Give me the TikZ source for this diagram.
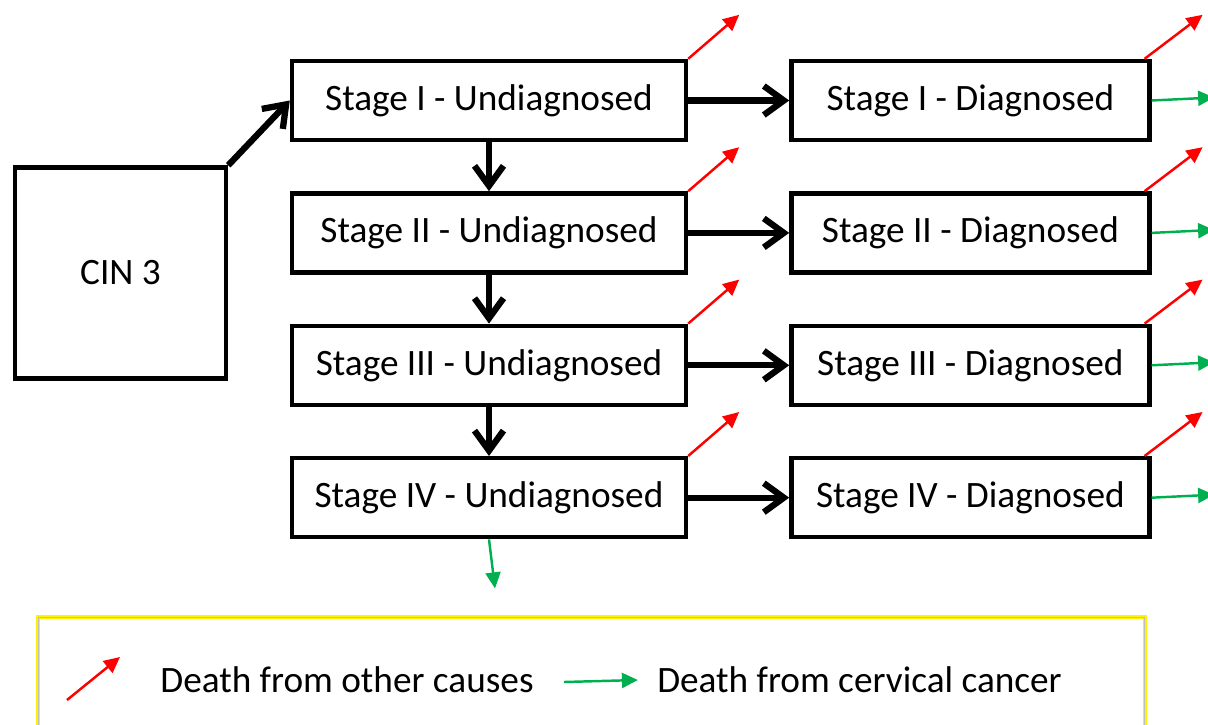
\documentclass[tikz,border=0pt]{standalone}
\usepackage{fontspec}
\setmainfont{Carlito}
\usetikzlibrary{positioning}
\usetikzlibrary{arrows.meta}
\definecolor{verde}{RGB}{0,176,80}

\begin{document}
\begin{tikzpicture}[font=\fontsize{21.2}{26}\selectfont,node distance=0.98cm and 2.02cm,
stadio/.style={draw,line width=2.5pt,minimum width=7.88cm,minimum height=1.58cm,inner sep=0pt},
diagn/.style={stadio,minimum width=7.16cm},
grande/.style={draw,line width=2.5pt,minimum width=4.22cm,minimum height=4.22cm,inner sep=0pt},
freccia/.style={line width=3.6pt,-{Straight Barb[length=4mm,width=5.8mm]}},
altre/.style={red,line width=1.4pt,-{Triangle[length=3.2mm,width=3mm]}},
cervice/.style={verde,line width=1.4pt,-{Triangle[length=3.2mm,width=3mm]}},
legenda/.style={draw=yellow,line width=2.6pt,minimum width=22.14cm,minimum height=2.46cm},
voce/.style={inner sep=0pt,anchor=west}
]
\useasboundingbox (0,0) rectangle (24.16,-14.48);
\node[grande](cin) at (2.41,-5.46){CIN 3};
%--
\node[stadio](u1) at (9.78,-2.01){Stage I - Undiagnosed};
\node[diagn,right=of u1](d1){Stage I - Diagnosed};
\draw[freccia] (cin.north east) -- (u1.west);
\draw[freccia] (u1) -- (d1);
\coordinate (ru1) at ([shift={(1.02,0.88)}]u1.north east);
\draw[altre] (u1.north east) -- (ru1);
\coordinate (rd1) at ([shift={(1.02,0.88)}]d1.north east);
\draw[altre] ([xshift=-0.14cm]d1.north east) -- (rd1);
\coordinate (gd1) at ([shift={(1.25,0.06)}]d1.east);
\draw[cervice] (d1.east) -- (gd1);
%----
\node[stadio,below=of u1](u2){Stage II - Undiagnosed};
\node[diagn,right=of u2](d2){Stage II - Diagnosed};
\draw[freccia] (u1) -- (u2);
\draw[freccia] (u2) -- (d2);
\coordinate (ru2) at ([shift={(1.02,0.88)}]u2.north east);
\draw[altre] (u2.north east) -- (ru2);
\coordinate (rd2) at ([shift={(1.02,0.88)}]d2.north east);
\draw[altre] ([xshift=-0.14cm]d2.north east) -- (rd2);
\coordinate (gd2) at ([shift={(1.25,0.06)}]d2.east);
\draw[cervice] (d2.east) -- (gd2);
%----
\node[stadio,below=of u2](u3){Stage III - Undiagnosed};
\node[diagn,right=of u3](d3){Stage III - Diagnosed};
\draw[freccia] (u2) -- (u3);
\draw[freccia] (u3) -- (d3);
\coordinate (ru3) at ([shift={(1.02,0.88)}]u3.north east);
\draw[altre] (u3.north east) -- (ru3);
\coordinate (rd3) at ([shift={(1.02,0.88)}]d3.north east);
\draw[altre] ([xshift=-0.14cm]d3.north east) -- (rd3);
\coordinate (gd3) at ([shift={(1.25,0.06)}]d3.east);
\draw[cervice] (d3.east) -- (gd3);
%----
\node[stadio,below=of u3](u4){Stage IV - Undiagnosed};
\node[diagn,right=of u4](d4){Stage IV - Diagnosed};
\draw[freccia] (u3) -- (u4);
\draw[freccia] (u4) -- (d4);
\coordinate (ru4) at ([shift={(1.02,0.88)}]u4.north east);
\draw[altre] (u4.north east) -- (ru4);
\coordinate (rd4) at ([shift={(1.02,0.88)}]d4.north east);
\draw[altre] ([xshift=-0.14cm]d4.north east) -- (rd4);
\coordinate (gd4) at ([shift={(1.25,0.06)}]d4.east);
\draw[cervice] (d4.east) -- (gd4);
\coordinate (gu4) at ([shift={(0.12,-0.98)}]u4.south);
\draw[cervice] (u4.south) -- (gu4);
%----
\node[legenda](leg) at (11.83,-13.57){};
\draw[gray!50,line width=0.4pt] ([shift={(0.06,-0.06)}]leg.north west) rectangle ([shift={(-0.06,0.06)}]leg.south east);
\coordinate (r0) at (1.34,-14.0);
\coordinate (r1) at (2.40,-13.14);
\draw[altre] (r0) -- (r1);
\node[voce](t1) at (3.2,-13.6){Death from other causes};
\coordinate (g0) at ([shift={(0.6,-0.04)}]t1.east);
\coordinate (g1) at ([xshift=2.08cm]t1.east);
\draw[cervice] (g0) -- (g1);
\node[voce,right=0.38cm of g1](t2){Death from cervical cancer};
\end{tikzpicture}
\end{document}
